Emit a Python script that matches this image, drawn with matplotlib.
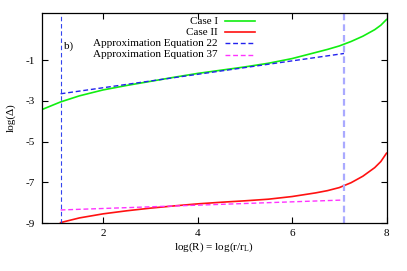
import matplotlib
matplotlib.use("Agg")
import matplotlib.pyplot as plt

plt.rcParams['font.family'] = ['Liberation Serif', 'DejaVu Serif']
plt.rcParams['mathtext.fontset'] = 'custom'
plt.rcParams['mathtext.rm'] = 'Liberation Serif'
plt.rcParams['mathtext.it'] = 'Liberation Serif:italic'

# Case I (green)
x_case1 = [0.7, 1.1, 1.5, 2.0, 2.5, 3.0, 3.5, 4.0, 4.5, 5.0, 5.5, 6.0, 6.5, 6.75, 7.0,
           7.25, 7.5, 7.75, 7.88, 8.0]
y_case1 = [-3.43, -3.05, -2.75, -2.46, -2.24, -2.04, -1.84, -1.65, -1.49, -1.33, -1.15, -0.92,
           -0.62, -0.47, -0.30, -0.08, 0.18, 0.50, 0.72, 1.0]
# Case II (red)
x_case2 = [1.1, 1.5, 2.0, 2.5, 3.0, 3.5, 4.0, 4.5, 5.0, 5.5, 6.0, 6.5, 6.75, 7.0, 7.25,
           7.5, 7.75, 7.88, 8.0]
y_case2 = [-8.98, -8.75, -8.55, -8.40, -8.27, -8.16, -8.06, -7.98, -7.91, -7.83, -7.70, -7.52,
           -7.41, -7.26, -7.02, -6.70, -6.28, -5.98, -5.57]
# Approximation Equation 22 (blue dashed)
x_eq22 = [1.1, 7.1]
y_eq22 = [-2.65, -0.67]
# Approximation Equation 37 (magenta dashed)
x_eq37 = [1.1, 7.1]
y_eq37 = [-8.36, -7.87]
# vertical markers
x_vlines = [1.1, 7.1]

labels = ["Case I", "Case II", "Approximation Equation 22", "Approximation Equation 37"]
xticks = [2, 4, 6, 8]
yticks = [-9, -7, -5, -3, -1]

fig = plt.figure(figsize=(4.07, 2.71), dpi=100)
ax = fig.add_axes([41.7/407, 48/271, 344.8/407, 210/271])

c_green = '#11ee11'
c_red = '#ff1111'
c_blue = '#2222ee'
c_mag = '#ff33ff'

ax.plot(x_case1, y_case1, color=c_green, lw=1.2)
ax.plot(x_case2, y_case2, color=c_red, lw=1.2)
ax.plot(x_eq22, y_eq22, color=c_blue, lw=1.0, dashes=(3.5, 2))
ax.plot(x_eq37, y_eq37, color=c_mag, lw=1.0, dashes=(3.5, 2))
ax.axvline(x_vlines[0], color='#3344ee', lw=0.8, dashes=(4, 2.5))
ax.axvline(x_vlines[1], color='#aaaaff', lw=1.6, dashes=(3, 1.8))

ax.set_xlim(0.7, 8.0)
ax.set_ylim(-9, 1.32)
ax.set_xticks(xticks)
ax.set_yticks(yticks)
ax.tick_params(direction='in', length=4, width=0.8, top=True, right=True, labelsize=8, colors='black')
ax.tick_params(axis='x', pad=4)
ax.tick_params(axis='y', pad=5)
ax.set_yticklabels([str(v) for v in yticks])
for s in ax.spines.values():
    s.set_linewidth(0.9)

ax.set_xlabel(r'log(R) = log(r/r$_\mathrm{L}$)', fontsize=8, labelpad=2)
ax.set_ylabel('log(Δ)', fontsize=8, labelpad=7)

# legend (gnuplot style: right-aligned text, sample to the right)
leg_colors = [c_green, c_red, c_blue, c_mag]
leg_dash = [None, None, (3.5, 2), (3.5, 2)]
leg_y = [0.960, 0.908, 0.856, 0.802]
for lab, col, d, yy in zip(labels, leg_colors, leg_dash, leg_y):
    ax.text(0.511, yy, lab, transform=ax.transAxes, ha='right', va='center', fontsize=8)
    kw = dict(color=col, lw=1.2, transform=ax.transAxes)
    if d is not None:
        kw['dashes'] = d
        kw['lw'] = 1.0
    ax.plot([0.532, 0.619], [yy, yy], **kw)

ax.text(0.065, 0.842, 'b)', transform=ax.transAxes, ha='left', va='center', fontsize=8)

fig.savefig('out.png', dpi=100)
